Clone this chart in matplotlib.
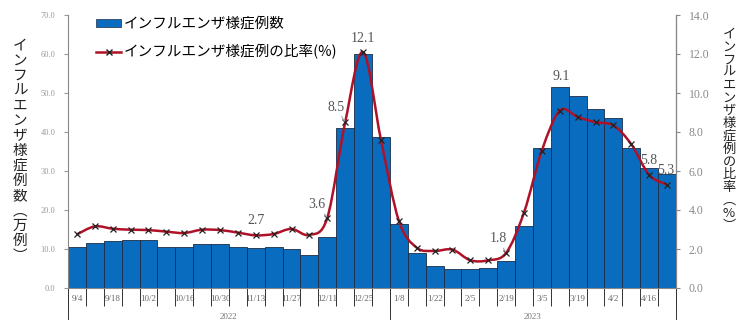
import numpy as np
import matplotlib
matplotlib.use("Agg")
import matplotlib.pyplot as plt
from matplotlib.path import Path
from matplotlib.patches import PathPatch
from matplotlib.lines import Line2D
from matplotlib.patches import Patch

plt.rcParams["font.family"] = ["Noto Sans CJK JP", "DejaVu Sans"]

weeks = ["9/4", "9/11", "9/18", "9/25", "10/2", "10/9", "10/16", "10/23", "10/30",
         "11/6", "11/13", "11/20", "11/27", "12/4", "12/11", "12/18", "12/25", "1/1",
         "1/8", "1/15", "1/22", "1/29", "2/5", "2/12", "2/19", "2/26", "3/5", "3/12",
         "3/19", "3/26", "4/2", "4/9", "4/16", "4/23"]
years = ["2022", "2023"]
year_start = [0, 18]

# インフルエンザ様症例数（万例）
counts = [10.4, 11.6, 12.1, 12.4, 12.2, 10.4, 10.5, 11.4, 11.2, 10.4, 10.2, 10.4,
          10.0, 8.4, 13.0, 41.1, 60.0, 38.7, 16.4, 9.0, 5.7, 4.8, 5.0, 5.1, 6.9,
          15.8, 36.0, 51.5, 49.3, 45.8, 43.7, 35.8, 30.7, 29.2]
# インフルエンザ様症例の比率（%）
ratio = [2.75, 3.16, 3.04, 2.99, 2.97, 2.89, 2.82, 2.99, 2.97, 2.84, 2.7, 2.77,
         3.03, 2.72, 3.6, 8.5, 12.1, 7.6, 3.45, 2.07, 1.9, 1.97, 1.42, 1.42, 1.8,
         3.87, 7.05, 9.1, 8.77, 8.5, 8.34, 7.37, 5.8, 5.3]

labeled = [10, 14, 15, 16, 24, 27, 32, 33]

BAR = "#0A6CBF"
RED = "#AE1228"
GRAY = "#7F7F7F"

fig = plt.figure(figsize=(7.47, 3.2), dpi=100)
ax = fig.add_axes([68 / 747, 1 - 288 / 320, 608 / 747, 273 / 320])
ax2 = ax.twinx()

x = np.arange(len(weeks))
ax.bar(x, counts, width=1.0, color=BAR, edgecolor="#1c2c44", linewidth=0.6, zorder=2)
ax.set_xlim(-0.5, len(weeks) - 0.5)
ax.set_ylim(0, 70)
ax.set_yticks(np.arange(0, 71, 10))
ax.set_yticklabels([f"{v:.1f}" for v in np.arange(0, 71, 10)],
                   family="Liberation Serif", fontsize=6, color="#999999")
ax.tick_params(axis="y", length=3, color="#999999", pad=6)

ax.set_xticks(x[::2])
ax.set_xticklabels(weeks[::2], family="Liberation Serif", fontsize=6.5, color="#666666")
ax.tick_params(axis="x", length=0, pad=5)

for s in ["top"]:
    ax.spines[s].set_visible(False)
    ax2.spines[s].set_visible(False)
ax.spines["left"].set_color("#888888")
ax.spines["bottom"].set_color("#888888")
ax2.spines["right"].set_color("#888888")
ax2.spines["left"].set_visible(False)
ax2.spines["bottom"].set_visible(False)

# separators below the axis
tr = ax.get_xaxis_transform()
bounds = np.arange(-0.5, len(weeks), 1.0)
ax.vlines(bounds, -0.065, 0, transform=tr, color="#333333", linewidth=0.7, clip_on=False)
long_b = [s - 0.5 for s in year_start] + [len(weeks) - 0.5]
ax.vlines(long_b, -0.2, 0, transform=tr, color="#333333", linewidth=0.7, clip_on=False)
for i, yl in enumerate(years):
    a = year_start[i] - 0.5
    b = (year_start[i + 1] - 0.5) if i + 1 < len(year_start) else len(weeks) - 0.5
    ax.text((a + b) / 2, -0.106, yl, transform=tr, ha="center", va="center",
            family="Liberation Serif", fontsize=6.5, color="#777777", clip_on=False)

# ratio line (smooth, Excel style)
ax2.set_ylim(0, 14)
ax2.set_yticks(np.arange(0, 15, 2))
ax2.set_yticklabels([f"{v:.1f}" for v in np.arange(0, 15, 2)],
                    family="Liberation Serif", fontsize=8.5, color="#888888")
ax2.tick_params(axis="y", length=3, color="#888888", pad=6)

pts = np.column_stack([x, ratio]).astype(float)
verts = [pts[0]]
codes = [Path.MOVETO]
n = len(pts)
for i in range(n - 1):
    p0 = pts[max(i - 1, 0)]
    p1 = pts[i]
    p2 = pts[i + 1]
    p3 = pts[min(i + 2, n - 1)]
    c1 = p1 + (p2 - p0) / 6
    c2 = p2 - (p3 - p1) / 6
    verts += [c1, c2, p2]
    codes += [Path.CURVE4] * 3
ax2.add_patch(PathPatch(Path(verts, codes), facecolor="none", edgecolor=RED,
                        linewidth=1.8, zorder=3))
ax2.plot(x, ratio, linestyle="none", marker="x", color="#222222", markersize=4,
         markeredgewidth=0.9, zorder=4)

offsets = {10: (0, 15), 14: (-10, 13), 15: (-9, 15), 16: (0, 14), 24: (-8, 14),
           27: (1, 34), 32: (0, 14), 33: (-1, 14)}
leaders = [14, 15, 24]
for i in labeled:
    dx, dy = offsets[i]
    ax2.annotate(f"{ratio[i]:.1f}", (x[i], ratio[i]), xytext=(dx, dy),
                 textcoords="offset pixels", ha="center", va="center",
                 family="Liberation Serif", fontsize=10, color="#555555", zorder=5,
                 arrowprops=dict(arrowstyle="-", color="#aaaaaa", lw=0.8,
                                 shrinkA=5, shrinkB=1) if i in leaders else None)

# legend
handles = [Patch(facecolor=BAR, edgecolor="#1c2c44", linewidth=0.5),
           Line2D([], [], color=RED, linewidth=1.8, marker="x", markersize=4,
                  markeredgecolor="#222222")]
leg = ax.legend(handles, ["インフルエンザ様症例数", "インフルエンザ様症例の比率(%)"],
                loc="upper left", bbox_to_anchor=(0.03, 1.03), frameon=False,
                fontsize=10.5, handlelength=1.7, handleheight=0.5, handletextpad=0.2,
                labelspacing=0.9, borderpad=0.2)
leg.set_zorder(10)

# vertical axis titles
left_title = "インフルエンザ様症例数︵万例︶"
for k, ch in enumerate(left_title):
    fig.text(20 / 747, 1 - (46 + k * 15.0) / 320, ch, ha="center", va="center",
             fontsize=10.5, color="#222222")
right_title = "インフルエンザ様症例の比率︵%︶"
for k, ch in enumerate(right_title):
    fig.text(729 / 747, 1 - (34 + k * 12.8) / 320, ch, ha="center", va="center",
             fontsize=9.5, color="#222222")

fig.savefig("out.png", dpi=100)
